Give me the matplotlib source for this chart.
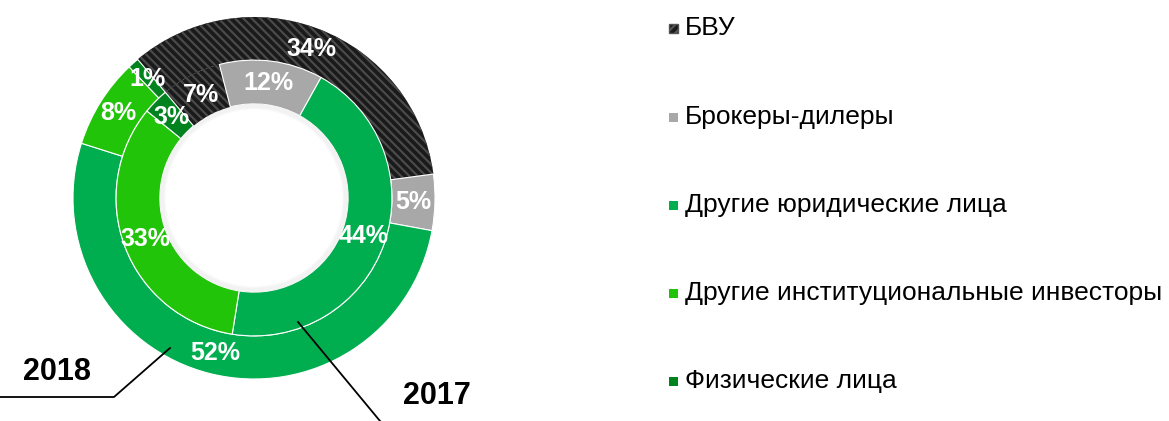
import numpy as np
import matplotlib
matplotlib.use("Agg")
import matplotlib.pyplot as plt

plt.rcParams['font.family'] = ['Liberation Sans', 'DejaVu Sans']
plt.rcParams['hatch.linewidth'] = 1.6

categories = ["БВУ", "Брокеры-дилеры", "Другие юридические лица",
              "Другие институциональные инвесторы", "Физические лица"]
share_2018 = [34, 5, 52, 8, 1]   # outer ring
share_2017 = [7, 12, 44, 33, 3]  # inner ring
colors = ["#1a1a1a", "#a8a8a8", "#00ae50", "#22c40a", "#00821e"]

fig = plt.figure(figsize=(11.69, 4.21), dpi=100)
W, H = 1169, 421
cx, cy, R = 254, 198, 181  # pixel centre / outer radius of the donut
ax = fig.add_axes([(cx - R) / W, (H - cy - R) / H, 2 * R / W, 2 * R / H])

r_mid = 0.762
r_hole = 0.52

def fmt(v):
    return "%d%%" % v

for vals, radius, width in [(share_2018, 1.0, 1.0 - r_mid),
                            (share_2017, r_mid, r_mid - r_hole)]:
    wedges, texts = ax.pie(vals, radius=radius, colors=colors, startangle=130,
                           counterclock=False,
                           wedgeprops=dict(width=width, edgecolor='white', linewidth=0.8))
    # label each wedge at the middle of its ring
    total = float(sum(vals))
    start = 130.0
    rr = radius - width / 2
    for v, w in zip(vals, wedges):
        mid = np.radians(start - 360 * v / total / 2)
        start -= 360 * v / total
        ax.text(rr * np.cos(mid), rr * np.sin(mid), fmt(v), ha='center', va='center',
                color='white', fontsize=18, fontweight='bold')
    # carbon texture for БВУ
    wedges[0].set_hatch('\\\\\\\\')
    wedges[0].set_edgecolor('#4a4a4a')
    wedges[0].set_linewidth(0)

# pie() resets the limits, so set them afterwards
ax.set_xlim(-1, 1)
ax.set_ylim(-1, 1)
ax.set_aspect('equal')
ax.axis('off')

# soft shadow inside the hole
for k in range(6):
    ax.add_patch(plt.Circle((0, 0), r_hole - 0.005 * k, facecolor='none',
                            edgecolor=(0.4, 0.4, 0.4, 0.025), linewidth=2.0))

# leader lines for the year labels
def px(x, y):
    return (x - cx) / R, (cy - y) / R

p = [px(170, 348), px(114, 397), px(0, 397)]
ax.plot([q[0] for q in p], [q[1] for q in p], color='black', lw=1.3, clip_on=False)
p = [px(298, 322), px(380, 421)]
ax.plot([q[0] for q in p], [q[1] for q in p], color='black', lw=1.3, clip_on=False)
tx, ty = px(57, 372)
ax.text(tx, ty, "2018", ha='center', va='center', fontsize=22, fontweight='bold', clip_on=False)
tx, ty = px(437, 396)
ax.text(tx, ty, "2017", ha='center', va='center', fontsize=22, fontweight='bold', clip_on=False)

# legend
leg_y = [28, 117, 205, 293, 381]
for i, (lab, c) in enumerate(zip(categories, colors)):
    y = 1 - leg_y[i] / H
    sq = plt.Rectangle((669 / W, y - 4.5 / H), 9 / W, 9 / H, transform=fig.transFigure,
                       facecolor=c, edgecolor='none')
    if i == 0:
        sq.set_hatch('////')
        sq.set_edgecolor('#555555')
    fig.add_artist(sq)
    fig.text(685 / W, y, lab, ha='left', va='center', fontsize=19, color='black')

fig.savefig("out.png", dpi=100)
